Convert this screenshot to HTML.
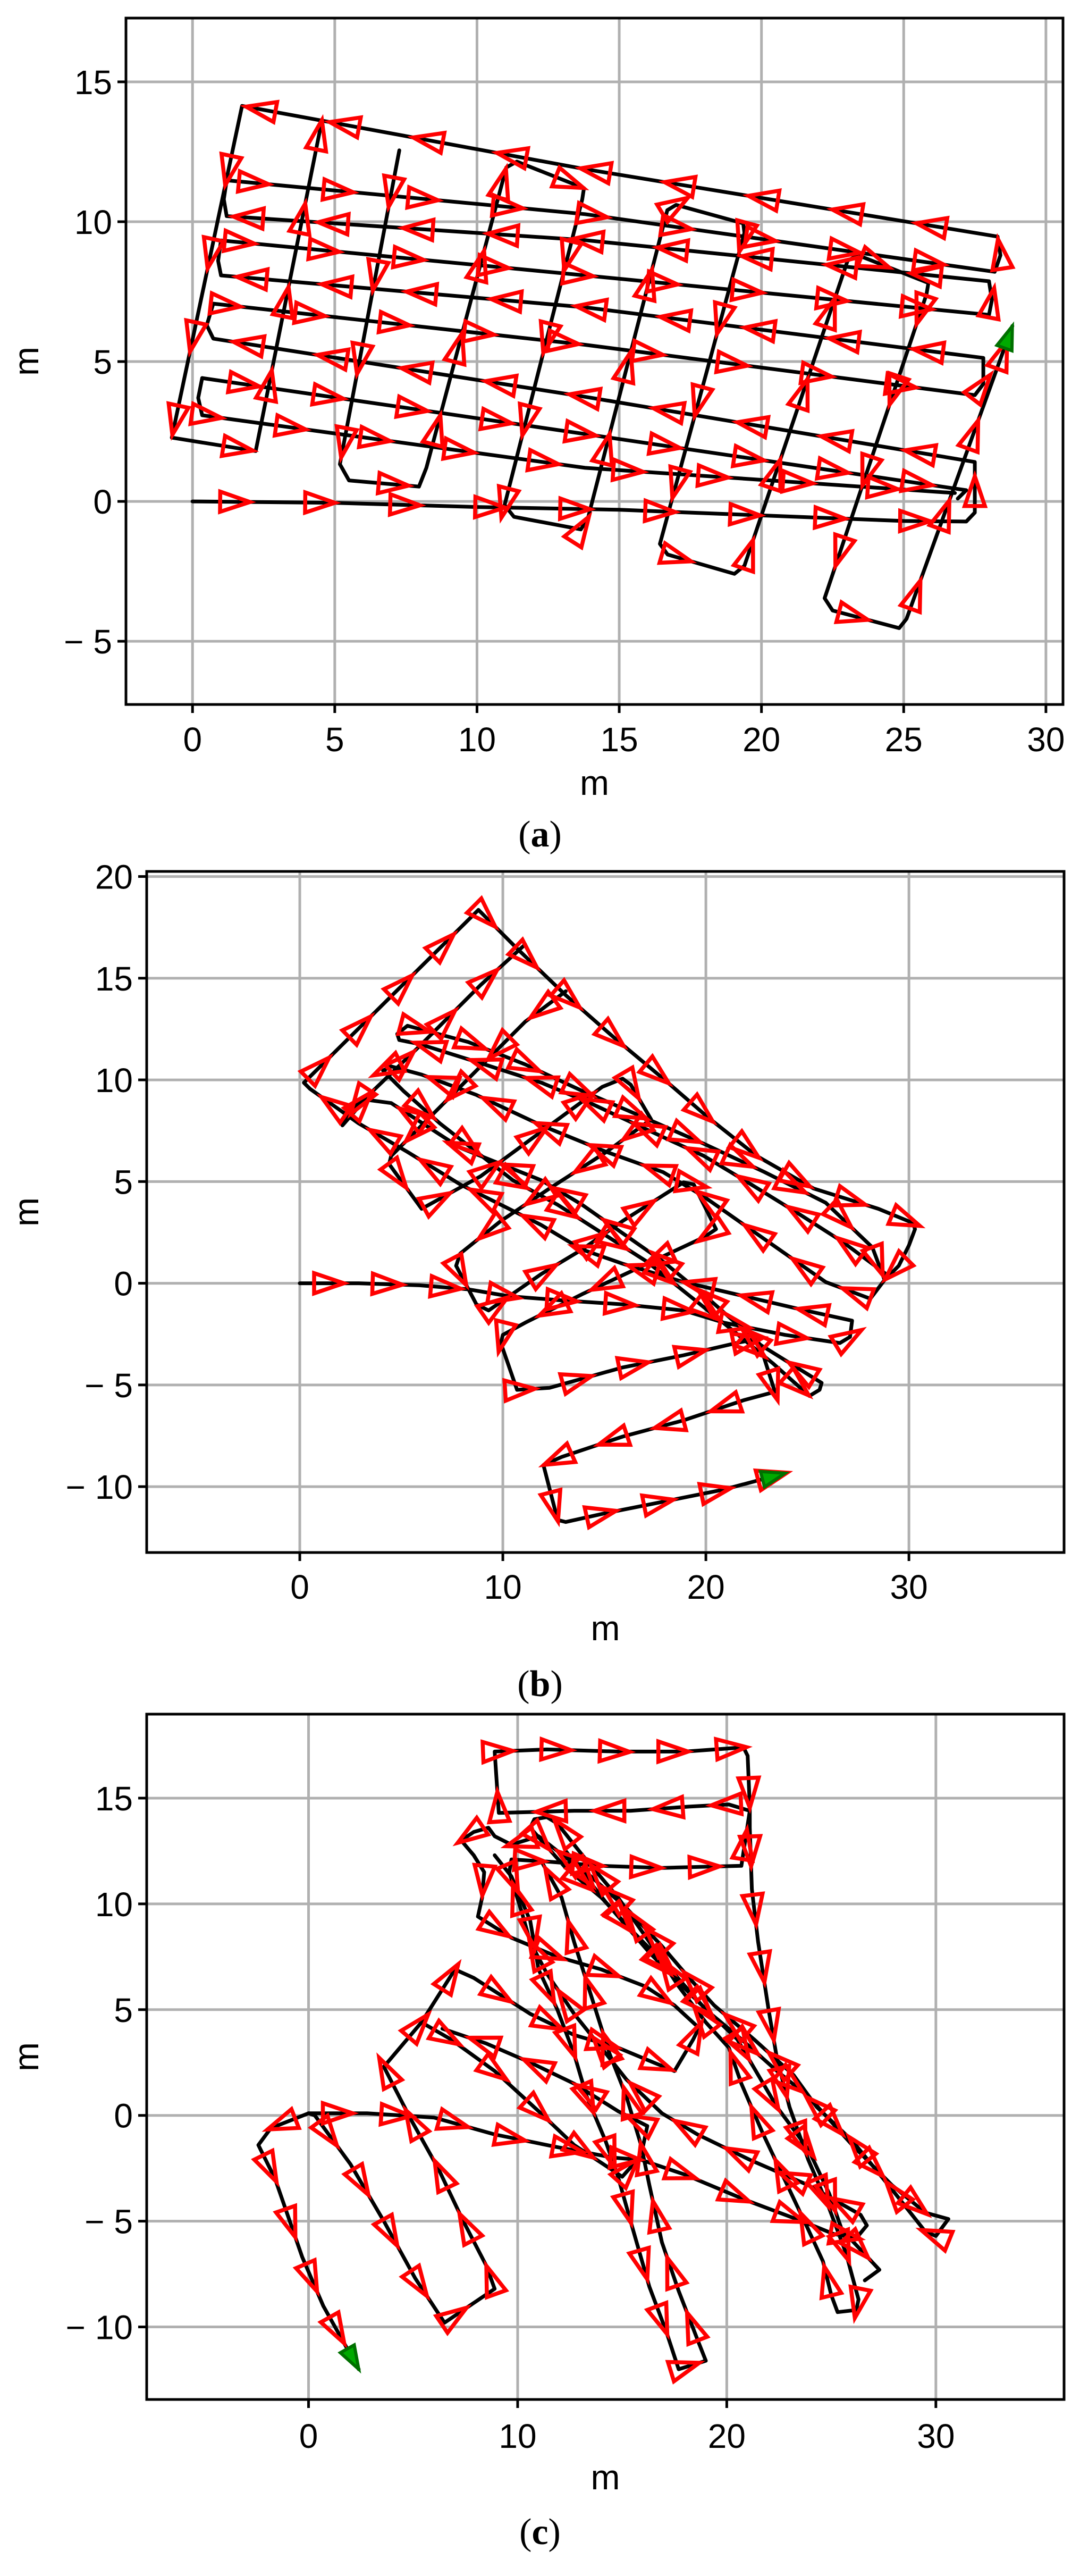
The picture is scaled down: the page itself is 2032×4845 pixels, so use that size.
<!DOCTYPE html>
<html><head><meta charset="utf-8"><style>
html,body{margin:0;padding:0;background:#fff;}
svg text{font-family:"Liberation Sans",sans-serif;}
svg text.cap{font-family:"Liberation Serif",serif;}
</style></head><body>
<svg id="fig" xmlns="http://www.w3.org/2000/svg" width="2032" height="4840" viewBox="0 0 2032 4840"></svg>
<script>
// ---------- Panel (a) data (metres) ----------
const aStartRow = [[0,0],[5,-0.05],[10,-0.2],[15,-0.3],[20,-0.5],[25,-0.7],[27.2,-0.72],[27.5,-0.4],[27.5,1.41],[13.8,3.74],[0.73,5.82],[0.5,6.3],[0.73,7.07],[13.8,5.6],[27.5,3.8],[27.8,4.2],[27.8,5.13],[13.8,6.94],[1.0,8.08],[0.9,8.6],[1.0,9.33],[13.8,8.08],[28.0,6.67],[28.1,7.2],[28.0,7.87],[13.8,9.34],[1.2,10.2],[1.1,10.8],[1.2,11.48],[13.8,10.27],[28.2,8.21],[28.4,8.8],[28.3,9.47],[13.8,11.88],[1.74,14.14],[-0.73,2.28],[2.22,1.8],[4.52,13.48]];
const aLowRows = [[0.34,4.41],[13.8,2.41],[27.2,0.4],[26.9,0.1]];
const aLowRows2 = [[0.34,4.41],[0.2,3.7],[0.34,3.08],[13.8,1.2],[26.8,0.3]];
const aColumns = [[7.27,12.55],[5.18,1.33],[5.5,0.75],[7.96,0.53],[8.22,1.2],[11.03,11.94],[11.4,12.15],[13.76,11.2],[13.7,10.8],[10.97,-0.13],[11.3,-0.55],[13.65,-1.0],[13.9,-0.6],[16.69,10.41],[17.0,10.6],[19.36,9.94],[19.4,9.6],[16.43,-1.52],[16.7,-1.9],[19.05,-2.59],[19.4,-2.3],[23.03,8.61],[23.4,8.8],[25.87,7.81],[25.8,7.4],[22.22,-3.46],[22.5,-3.9],[24.84,-4.53],[25.1,-4.2],[28.82,6.27]];
// ---------- Panel (b) data ----------
const bMain = [[0,0],[2.9,0],[5.9,-0.1],[8.3,-0.3],[10.3,-0.64],[12.9,-0.84],[15.9,-1.04],[18.9,-1.34],[20.9,-1.94],[23.9,-2.54],[26.6,-2.94],[27.1,-2.64],[27.2,-1.84],[24.9,-1.34],[21.9,-0.64],[18.9,0.06],[15.9,0.96],[13.9,1.66],[11.9,2.86],[9.9,3.86],[7.9,4.86],[5.3,6.46],[2.9,7.86],[0.5,9.56],[0.2,9.86],[8.8,18.36],[10.7,16.46],[13.1,14.16],[15.5,12.06],[17.9,10.06],[20.1,8.16],[22.5,6.26],[25.3,4.66],[28.5,3.66],[30.2,2.96],[30.3,2.66],[30.0,1.86],[29.5,0.86],[29.0,0.36],[26.7,2.06],[24.5,3.46],[21.9,5.06],[19.9,6.26],[17.3,7.46],[14.3,8.86],[11.9,9.86],[9.1,10.76],[5.9,11.76],[4.9,11.96],[4.8,12.26],[5.3,12.66],[8.3,11.86],[11.1,10.76],[13.9,9.46],[16.7,8.26],[19.9,6.86],[22.9,5.46],[25.9,3.96],[28.2,1.76],[28.8,0.16],[28.1,-0.76],[25.9,0.06],[23.9,1.46],[21.9,2.86],[19.9,4.26],[17.9,5.46],[15.1,6.46],[11.9,7.76],[8.7,9.26],[6.0,10.26],[4.5,10.66],[4.1,10.46],[4.5,10.06],[5.1,9.46],[6.9,7.86],[8.7,6.46],[10.5,5.06],[12.7,3.86],[14.9,2.46],[17.1,1.06],[19.1,-0.54],[21.1,-2.14],[23.3,-3.94],[25.1,-5.54],[25.6,-5.24],[25.7,-4.9],[22.7,-3.04],[20.1,-0.74],[17.9,1.06],[15.9,2.46],[13.9,3.86],[11.9,5.06],[9.9,5.86],[7.9,6.66],[5.9,7.96],[4.5,8.86],[3.0,9.06],[2.6,8.46],[2.1,7.76],[3.5,9.36],[5.9,11.66],[8.9,14.66],[11.1,16.66]];
const bSecond = [[13.1,14.36],[11.1,12.86],[9.1,10.86],[7.1,8.86],[4.5,6.26],[4.4,5.86],[6.0,3.66],[8.9,5.26],[11.9,7.46],[14.9,9.66],[15.9,10.06],[16.3,9.76],[17.3,8.06],[15.1,6.46],[12.3,4.66],[9.9,3.06],[7.9,1.46],[7.7,0.86],[8.7,-1.04],[9.3,-1.34],[11.9,0.46],[13.9,1.66],[15.9,3.06],[18.9,4.96],[19.4,4.86],[20.5,2.66],[19.9,2.26],[16.9,0.86],[13.9,-0.54],[11.1,-1.94],[10.0,-2.54],[9.9,-2.94],[10.7,-5.24],[12.3,-5.14],[15.9,-4.14],[18.9,-3.54],[21.5,-2.94],[22.5,-2.74],[22.7,-3.14],[23.4,-5.34],[21.9,-5.74],[18.9,-6.74],[15.9,-7.54],[12.9,-8.54],[12.0,-8.94],[12.7,-11.64],[13.1,-11.74],[14.9,-11.34],[17.9,-10.74],[20.9,-10.14],[23.9,-9.34]];
// ---------- Panel (c) data ----------
const cMain = [[0,0.1],[2.8,0.1],[6.0,-0.1],[8.9,-0.9],[11.9,-1.5],[14.6,-2.0],[15.9,-2.1],[18.0,-2.8],[20.9,-4.0],[23.6,-5.0],[25.1,-5.6],[26.2,-5.8],[26.7,-5.2],[26.4,-4.7],[23.9,-3.3],[21.1,-2.1],[18.6,-0.9],[16.9,0.1],[15.2,1.7],[14.0,3.2],[12.7,4.8],[11.4,6.7],[10.6,8.2],[10.2,9.6],[9.6,11.5],[9.7,12.1],[11.4,12.0],[14.0,11.8],[16.9,11.7],[20.7,11.8],[21.1,14.4],[20.1,14.7],[18.2,14.6],[15.4,14.4],[12.7,14.4],[9.1,14.3],[8.9,17.2],[11.4,17.3],[14.8,17.2],[18.0,17.2],[20.8,17.4],[21.0,17.0],[21.1,14.6],[21.1,13.6],[21.2,10.7],[21.5,8.2],[22.0,5.0],[22.4,2.7],[23.0,0.4],[23.9,-2.1],[24.9,-4.4],[25.7,-6.5],[26.3,-8.7],[26.2,-9.2],[25.3,-9.3],[25.0,-8.5],[24.6,-6.9],[23.9,-5.4],[22.8,-3.1],[21.7,-0.8],[20.7,1.5],[20.1,3.2],[19.0,4.4],[17.7,6.1],[16.3,8.2],[14.8,10.3],[13.1,12.3],[11.9,13.8],[11.4,14.1],[10.8,14.0],[10.6,13.6],[12.3,11.7],[14.0,10.3],[15.6,8.6],[17.3,6.9],[19.0,5.0],[20.7,3.6],[22.4,2.1],[23.9,0.9],[26.0,-1.4],[27.9,-3.3],[29.5,-4.6],[30.6,-4.9],[30.0,-5.7],[29.5,-5.5],[27.9,-3.5],[26.0,-1.2],[24.3,0.4],[23.2,1.9],[21.3,3.6],[19.4,5.2],[18.2,6.5],[16.9,8.0],[15.2,9.8],[13.5,11.3],[11.9,12.5],[11.0,13.2],[9.7,12.8],[8.9,13.2],[8.6,13.6],[7.9,13.4],[7.3,13.0],[7.9,12.3],[8.4,11.5],[8.3,10.3],[8.1,9.4],[9.7,8.4],[11.9,7.5],[14.0,6.9],[16.1,6.1],[17.5,5.2],[18.6,4.2]];
const cLeft = [[0,0.1],[0.3,0.0],[2.0,-2.3],[3.6,-5.0],[5.1,-7.7],[6.5,-9.8],[8.9,-8.2],[8.5,-7.1],[7.4,-5.0],[6.2,-2.5],[4.9,-0.2],[3.6,2.3],[5.4,4.4],[7.0,6.9],[7.9,6.5],[10.6,4.8],[12.7,3.8],[14.8,3.2],[16.5,2.5],[17.5,2.1],[18.4,3.6],[18.8,4.4]];
const cMid = [[5.4,4.4],[6.8,3.6],[8.9,2.1],[11.0,0.2],[12.7,-1.4],[14.4,-2.5],[15.0,-2.9],[15.9,-1.9],[16.2,-0.5],[14.8,0.2],[12.7,1.5],[10.6,2.5],[8.5,3.4],[6.4,4.1]];
const cCols = [[8.9,12.3],[9.7,11.3],[10.6,9.2],[11.0,6.9],[11.9,5.0],[12.7,2.9],[13.3,0.9],[14.2,-1.2],[14.8,-2.9],[15.4,-5.0],[16.3,-8.1],[17.1,-10.2],[17.7,-12.0],[19.0,-11.6],[18.6,-10.6],[17.7,-8.3],[16.9,-6.0],[16.3,-3.3],[15.9,-1.4],[15.2,0.9],[14.4,2.9],[13.5,5.7],[12.7,8.2],[12.1,10.3],[11.2,11.9]];
const cDiag = [[12.3,12.5],[14.2,10.1],[16.3,7.7],[18.4,5.6],[20.5,3.6],[22.4,0.4],[23.9,-1.6],[24.9,-3.7],[25.5,-5.4],[27.3,-7.3],[26.6,-7.8]];
const cEnd = [[0,0.1],[-1.8,-0.6],[-2.4,-1.4],[-1.6,-3.0],[-0.3,-6.7],[0.7,-9.0],[2.4,-12.0]];
// ---------- Axis tick labels ----------
const aXTicks=[0,5,10,15,20,25,30], aYTicks=[-5,0,5,10,15];
const bXTicks=[0,10,20,30], bYTicks=[-10,-5,0,5,10,15,20];
const cXTicks=[0,10,20,30], cYTicks=[-10,-5,0,5,10,15];

const NS='http://www.w3.org/2000/svg';
const svg=document.getElementById('fig');
function mk(tag,attrs,parent){const e=document.createElementNS(NS,tag);for(const k in attrs)e.setAttribute(k,attrs[k]);(parent||svg).appendChild(e);return e;}

function panel(cfg){
  const g=mk('g',{});
  
  
  const sx=v=>cfg.L+(v-cfg.xmin)/(cfg.xmax-cfg.xmin)*(cfg.R-cfg.L);
  const sy=v=>cfg.B-(v-cfg.ymin)/(cfg.ymax-cfg.ymin)*(cfg.B-cfg.T);
  const cp=mk('clipPath',{id:cfg.id+'clip'},g);
  mk('rect',{x:cfg.L,y:cfg.T,width:cfg.R-cfg.L,height:cfg.B-cfg.T},cp);
  cfg.xt.forEach(v=>{const l=mk('line',{x1:sx(v),x2:sx(v),y1:cfg.T,y2:cfg.B,stroke:'#b0b0b0','stroke-width':5},g);
    });
  cfg.yt.forEach(v=>{const l=mk('line',{x1:cfg.L,x2:cfg.R,y1:sy(v),y2:sy(v),stroke:'#b0b0b0','stroke-width':5},g);
    });
  const pg=mk('g',{'clip-path':'url(#'+cfg.id+'clip)'},g);
  
  
  cfg.paths.forEach(pts=>{
    const d=pts.map((p,i)=>(i?'L':'M')+sx(p[0]).toFixed(1)+' '+sy(p[1]).toFixed(1)).join(' ');
    const pe=mk('path',{d:d,fill:'none',stroke:'#000','stroke-width':7,'stroke-linejoin':'round','stroke-linecap':'round'},pg);
    
    
  });
  cfg.paths.forEach(pts=>{
    let acc=cfg.sp*0.5;
    for(let i=0;i<pts.length-1;i++){
      const x1=sx(pts[i][0]),y1=sy(pts[i][1]),x2=sx(pts[i+1][0]),y2=sy(pts[i+1][1]);
      const L=Math.hypot(x2-x1,y2-y1); if(L<0.01)continue;
      let t=acc;
      while(t<=L){
        const x=x1+(x2-x1)*t/L,y=y1+(y2-y1)*t/L,a=Math.atan2(y2-y1,x2-x1)*180/Math.PI;
        const m=mk('polygon',{points:'28,0 -28,-19 -28,19',fill:'none',stroke:'#ff0000','stroke-width':7.5,'stroke-linejoin':'miter',transform:'translate('+x.toFixed(1)+' '+y.toFixed(1)+') rotate('+a.toFixed(1)+')'},pg);
        
        
        t+=cfg.sp;
      }
      acc=t-L;
    }
  });
  const last=cfg.paths[cfg.endIdx], p2=last[last.length-1], p1=last[last.length-2];
  const ea=Math.atan2(sy(p2[1])-sy(p1[1]),sx(p2[0])-sx(p1[0]))*180/Math.PI;
  const en=mk('polygon',{points:'0,0 -44,-15 -44,15',fill:'#0a0',stroke:'#007000','stroke-width':6,transform:'translate('+sx(p2[0])+' '+sy(p2[1])+') rotate('+ea+')'},pg);
  
  
  const sp=mk('rect',{x:cfg.L,y:cfg.T,width:cfg.R-cfg.L,height:cfg.B-cfg.T,fill:'none',stroke:'#000','stroke-width':5},g);
  
  
  cfg.xt.forEach(v=>{mk('line',{x1:sx(v),x2:sx(v),y1:cfg.B,y2:cfg.B+16,stroke:'#000','stroke-width':5},g);
    const t=mk('text',{x:sx(v),y:cfg.xlb,'font-size':64,'text-anchor':'middle'},g);t.textContent=(v<0?'−':'')+Math.abs(v);
    });
  cfg.yt.forEach(v=>{mk('line',{x1:cfg.L-16,x2:cfg.L,y1:sy(v),y2:sy(v),stroke:'#000','stroke-width':5},g);
    const t=mk('text',{x:cfg.L-26,y:sy(v)+23,'font-size':64,'text-anchor':'end'},g);t.textContent=(v<0?'− ':'')+Math.abs(v);
    });
  const xl=mk('text',{x:(cfg.L+cfg.R)/2,y:cfg.xtitle,'font-size':66,'text-anchor':'middle'},g);xl.textContent='m';
  
  const yc=(cfg.T+cfg.B)/2;
  const yl=mk('text',{x:0,y:0,'font-size':66,'text-anchor':'middle',transform:'translate(72 '+yc+') rotate(-90)'},g);yl.textContent='m';
  
  const cap=mk('text',{x:1016,y:cfg.cap,'font-size':70,'text-anchor':'middle','class':'cap'},g);
  cap.innerHTML='(<tspan font-weight="bold">'+cfg.label+'</tspan>)';
  
}

panel({id:'a',name:'panel-a',label:'a',L:237,R:2000,T:34,B:1325,xmin:-2.34,xmax:30.6,ymin:-7.26,ymax:17.28,
  xt:aXTicks,yt:aYTicks,paths:[aStartRow,aLowRows,aLowRows2,aColumns],endIdx:3,sp:160,xlb:1413,xtitle:1495,cap:1592});
panel({id:'b',name:'panel-b',label:'b',L:276,R:2002,T:1639,B:2920,xmin:-7.54,xmax:37.64,ymin:-13.24,ymax:20.25,
  xt:bXTicks,yt:bYTicks,paths:[bMain,bSecond],endIdx:1,sp:110,xlb:3007,xtitle:3085,cap:3190});
panel({id:'c',name:'panel-c',label:'c',L:276,R:2002,T:3224,B:4513,xmin:-7.74,xmax:36.13,ymin:-13.43,ymax:18.97,
  xt:cXTicks,yt:cYTicks,paths:[cMain,cLeft,cMid,cCols,cDiag,cEnd],endIdx:5,sp:110,xlb:4604,xtitle:4682,cap:4785});
</script>
</body></html>
